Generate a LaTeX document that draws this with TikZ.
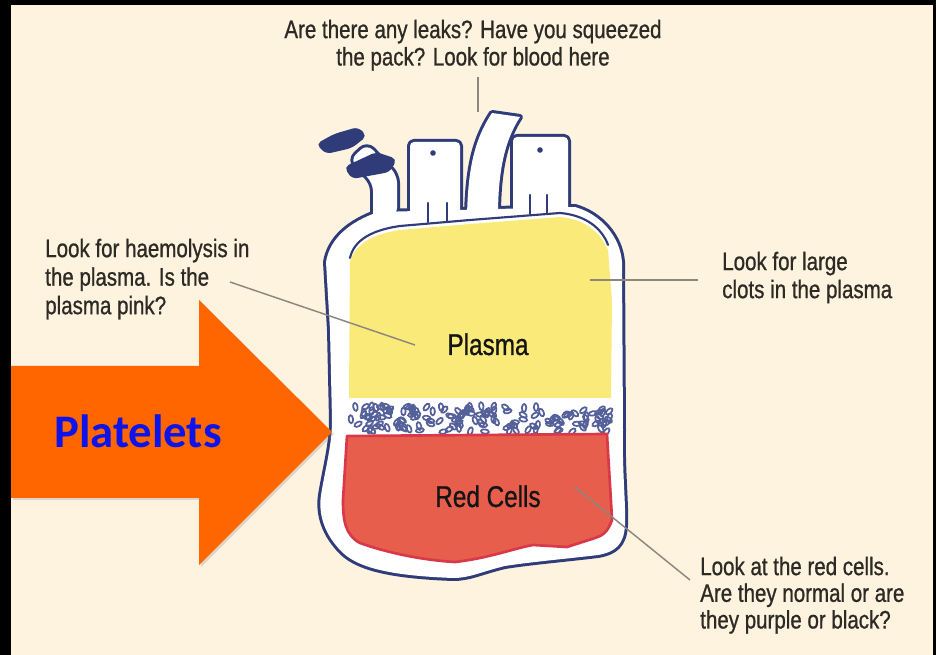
\documentclass[tikz,border=0pt]{standalone}
\usepackage{fontspec}
\setmainfont{Liberation Sans}
\newfontfamily\annfont[FakeStretch=0.81,FakeBold=0.8]{Liberation Sans}
\newfontfamily\calfont{Carlito}
\usetikzlibrary{shadows}

\definecolor{cream}{RGB}{253,243,222}
\definecolor{bagblue}{RGB}{48,60,122}
\definecolor{speck}{RGB}{84,96,154}
\definecolor{plasmaY}{RGB}{249,234,122}
\definecolor{redcell}{RGB}{232,94,76}
\definecolor{redrim}{RGB}{216,56,72}
\definecolor{leader}{RGB}{140,136,125}
\definecolor{anntext}{RGB}{45,42,38}
\definecolor{arroworange}{RGB}{255,102,0}
\definecolor{plateblue}{RGB}{12,20,235}

% outlines of the pack, reused for the wall stroke and the white fill
\def\bagbody{(326,262) .. controls (330,238) and (350,222) .. (378,212) -- (575,207)
  .. controls (600,214) and (620,236) .. (622,262) -- (623,430)
  .. controls (622,470) and (626,505) .. (625,525)
  .. controls (624,545) and (615,552) .. (598,555)
  .. controls (565,559) and (530,562) .. (505,566)
  .. controls (480,572) and (470,578) .. (453,578)
  .. controls (400,576) and (360,570) .. (342,552)
  .. controls (325,535) and (318,515) .. (321,495)
  .. controls (326,465) and (332,445) .. (332,420) -- (330,330) -- cycle}
\def\lport{[rounded corners=3] (410,214) -- (410,142) -- (460,142) -- (460,214) -- cycle}
\def\rport{[rounded corners=3] (513,214) -- (513,137) -- (568,137) -- (568,212) -- cycle}
\def\ctube{(467,216) .. controls (468,170) and (474,140) .. (492,113) -- (520,117)
  .. controls (505,140) and (498,170) .. (498,216) -- cycle}
\def\ltube{[rounded corners=6] (373,222) -- (373,183) -- (350,160) -- (367,144) -- (397,175) -- (397,216) -- cycle}

\begin{document}
\begin{tikzpicture}[x=0.75pt,y=-0.75pt,
  ann/.style={font=\annfont\fontsize{19}{20.5}\selectfont, text=anntext, inner sep=0pt, align=left},
  tag/.style={font=\annfont\fontsize{22.5}{26}\selectfont, text=black!92, inner sep=0pt},
  leaderline/.style={draw=leader, line width=1.1pt},
  bagwall/.style={draw=bagblue, line width=4.5pt, line join=round},
  innerwall/.style={draw=bagblue, line width=1.6pt, line cap=round},
  spk/.style={draw=speck, line width=1.3pt}]

% frame and paper
\fill[black] (0,0) rectangle (936,655);
\fill[cream] (11,5) rectangle (933,655);
\useasboundingbox (0,0) rectangle (936,655);

% pack wall: strokes first, then white fills, so only the outer contour remains
\path[bagwall] \bagbody;
\path[bagwall] \lport;
\path[bagwall] \rport;
\path[bagwall] \ctube;
\path[bagwall] \ltube;
\fill[white] \bagbody;
\fill[white] \lport;
\fill[white] \rport;
\fill[white] \ctube;
\fill[white] \ltube;

% clamp on the left tube
\fill[bagblue, rounded corners=4] (316,144) -- (334,134) -- (358,127) -- (367,136) -- (352,148) -- (326,154) -- cycle;
\fill[bagblue, rounded corners=4] (344,167) -- (376,152) -- (397,159) -- (390,172) -- (352,179) -- cycle;

% port details
\fill[bagblue] (433,153) circle [radius=2.8];
\fill[bagblue] (540,150) circle [radius=2.8];
\draw[innerwall] (428,203) -- (428,222);
\draw[innerwall] (447,203) -- (447,221);
\draw[innerwall] (530,195) -- (530,214);
\draw[innerwall] (547,195) -- (547,213);

% inner wall along the top
\draw[innerwall] (350,258) .. controls (354,240) and (372,230) .. (400,226) -- (470,220)
  -- (560,213) .. controls (585,215) and (602,228) .. (608,245);

% plasma
\fill[plasmaY] (350,262) .. controls (355,244) and (373,234) .. (400,230) -- (470,224)
  -- (560,217) .. controls (583,219) and (600,231) .. (608,250) -- (612,300)
  -- (611,398) -- (349,398) -- cycle;

% buffy coat
\pgfmathsetseed{42}
\foreach \i in {1,...,150}{
  \pgfmathsetmacro\sx{349+262*rnd}
  \pgfmathsetmacro\sy{406+26*rnd}
  \pgfmathsetmacro\sa{180*rnd}
  \draw[spk, rotate around={\sa:(\sx,\sy)}] (\sx,\sy) ellipse [x radius=4, y radius=2.2];
}

% red cells
\fill[redcell] (347,436) -- (607,434) .. controls (609,470) and (611,500) .. (612,520)
  .. controls (608,532) and (602,536) .. (595,538) -- (567,547) -- (533,545)
  .. controls (515,548) and (490,558) .. (455,562) .. controls (420,560) and (385,552) .. (360,543)
  .. controls (345,535) and (343,520) .. (343,500) -- cycle;
\draw[redrim, line width=2pt, line join=round] (347,436) -- (607,434) .. controls (609,470) and (611,500) .. (612,520)
  .. controls (608,532) and (602,536) .. (595,538) -- (567,547) -- (533,545)
  .. controls (515,548) and (490,558) .. (455,562) .. controls (420,560) and (385,552) .. (360,543)
  .. controls (345,535) and (343,520) .. (343,500) -- cycle;

% labels inside the pack
\node[tag, anchor=base] (plasma) at (488,355) {Plasma};
\node[tag, anchor=base] (redcells) at (488,507) {Red Cells};

% annotations
\node[ann, align=center, anchor=north] (leaks) at (473,19.5)
  {Are there any leaks? Have you squeezed\\the pack? Look for blood here};
\node[ann, anchor=north west, font=\annfont\fontsize{19}{21.4}\selectfont] (haemo) at (45,238.5)
  {Look for haemolysis in\\the plasma. Is the\\plasma pink?};
\node[ann, anchor=north west, font=\annfont\fontsize{19}{21}\selectfont] (clots) at (722,251.5)
  {Look for large\\clots in the plasma};
\node[ann, anchor=north west, font=\annfont\fontsize{19}{20}\selectfont] (cells) at (700,556.5)
  {Look at the red cells.\\Are they normal or are\\they purple or black?};

% leader lines
\coordinate (leakA) at (478,77);
\coordinate (leakB) at (478,112);
\coordinate (haemoA) at (230,282);
\coordinate (haemoB) at (415,345);
\coordinate (clotsA) at (698,280);
\coordinate (clotsB) at (590,280);
\coordinate (cellsA) at (690,580);
\coordinate (cellsB) at (575,487);
\draw[leaderline] (leakA) -- (leakB);
\draw[leaderline] (haemoA) -- (haemoB);
\draw[leaderline] (clotsA) -- (clotsB);
\draw[leaderline] (cellsA) -- (cellsB);

% platelets arrow
\path[fill=arroworange, drop shadow={shadow xshift=1.5pt, shadow yshift=-1.5pt, opacity=0.25}]
  (11,366) -- (199,366) -- (199,300) -- (332,432) -- (199,565) -- (199,498) -- (11,498) -- cycle;
\node[font=\calfont\bfseries\fontsize{35}{40}\selectfont, text=plateblue, anchor=base, inner sep=0pt]
  (platelets) at (138,448) {Platelets};
\end{tikzpicture}
\end{document}
